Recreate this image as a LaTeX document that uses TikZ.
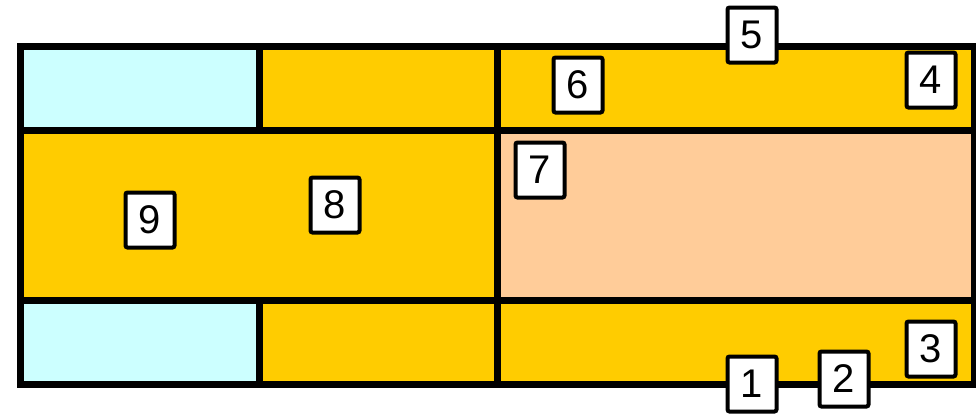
\documentclass[tikz,border=0pt]{standalone}
\usepackage{fontspec}
\setmainfont{Liberation Sans}
\definecolor{cyanc}{HTML}{CCFFFF}
\definecolor{yellc}{HTML}{FFCC00}
\definecolor{peachc}{HTML}{FFCC99}
\begin{document}
\begin{tikzpicture}[x=0.5pt,y=-0.5pt,
  grid/.style={line width=3.5pt,line join=miter},
  tag/.style={draw,fill=white,line width=2pt,rounded corners=1pt,inner sep=0pt,
    minimum width=24.5pt,minimum height=27.5pt,font=\fontsize{20}{20}\selectfont}]
\useasboundingbox (0,0) rectangle (976,414);
% cells
\fill[cyanc] (20,46) rectangle (259,130);
\fill[yellc] (259,46) rectangle (974,130);
\fill[yellc] (20,130) rectangle (497,300);
\fill[peachc] (497,130) rectangle (974,300);
\fill[cyanc] (20,300) rectangle (259,384);
\fill[yellc] (259,300) rectangle (974,384);
% grid lines
\draw[grid] (20,46) rectangle (974,384);
\draw[grid] (20,130) -- (974,130);
\draw[grid] (20,300) -- (974,300);
\draw[grid] (259,46) -- (259,130);
\draw[grid] (259,300) -- (259,384);
\draw[grid] (497,46) -- (497,384);
% tags
\node[tag] (t1) at (752,384) {1};
\node[tag] (t2) at (844,379) {2};
\node[tag] (t3) at (931,349) {3};
\node[tag] (t4) at (931,80) {4};
\node[tag] (t5) at (752,35) {5};
\node[tag] (t6) at (578,85) {6};
\node[tag] (t7) at (540,170) {7};
\node[tag] (t8) at (335,205) {8};
\node[tag] (t9) at (150,220) {9};
\end{tikzpicture}
\end{document}
